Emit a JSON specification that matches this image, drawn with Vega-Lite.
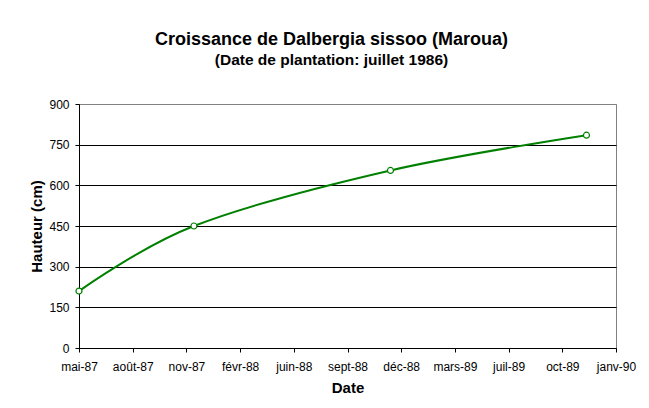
{
  "$schema": "https://vega.github.io/schema/vega-lite/v6.json",
  "width": 537,
  "height": 244,
  "autosize": {"type": "none"},
  "padding": {"left": 79, "top": 104, "right": 33, "bottom": 60},
  "background": "white",
  "title": {
    "text": "Croissance de Dalbergia sissoo (Maroua)",
    "subtitle": "(Date de plantation: juillet 1986)",
    "font": "Liberation Sans",
    "fontSize": 18,
    "fontWeight": "bold",
    "color": "black",
    "subtitleFont": "Liberation Sans",
    "subtitleFontSize": 15.5,
    "subtitleFontWeight": "bold",
    "subtitleColor": "black",
    "subtitlePadding": 4,
    "anchor": "middle",
    "frame": "group",
    "dx": -16,
    "offset": 30
  },
  "data": {
    "values": [
      {"date": "1987-05-01", "hauteur": 210},
      {"date": "1987-12-01", "hauteur": 450},
      {"date": "1988-12-01", "hauteur": 655},
      {"date": "1989-12-01", "hauteur": 785}
    ]
  },
  "encoding": {
    "x": {
      "field": "date",
      "type": "temporal",
      "title": "Date",
      "scale": {
        "type": "utc",
        "domain": [
          {"year": 1987, "month": 5, "date": 1, "utc": true},
          {"year": 1990, "month": 1, "date": 25, "utc": true}
        ],
        "nice": false
      },
      "axis": {
        "values": [
          {"year": 1987, "month": 5, "date": 1, "utc": true},
          {"year": 1987, "month": 8, "date": 9, "utc": true},
          {"year": 1987, "month": 11, "date": 17, "utc": true},
          {"year": 1988, "month": 2, "date": 25, "utc": true},
          {"year": 1988, "month": 6, "date": 4, "utc": true},
          {"year": 1988, "month": 9, "date": 12, "utc": true},
          {"year": 1988, "month": 12, "date": 21, "utc": true},
          {"year": 1989, "month": 3, "date": 31, "utc": true},
          {"year": 1989, "month": 7, "date": 9, "utc": true},
          {"year": 1989, "month": 10, "date": 17, "utc": true},
          {"year": 1990, "month": 1, "date": 25, "utc": true}
        ],
        "labelExpr": "['janv','févr','mars','avr','mai','juin','juil','août','sept','oct','nov','déc'][utcmonth(datum.value)] + '-' + utcFormat(datum.value, '%y')",
        "grid": false,
        "labelPadding": 9,
        "titlePadding": 8,
        "labelFlush": false,
        "labelOverlap": false
      }
    },
    "y": {
      "field": "hauteur",
      "type": "quantitative",
      "title": "Hauteur (cm)",
      "scale": {"domain": [0, 900], "nice": false},
      "axis": {
        "values": [0, 150, 300, 450, 600, 750, 900],
        "grid": true,
        "gridColor": {"condition": {"test": "datum.value == 900", "value": "#808080"}, "value": "black"},
        "gridWidth": 1,
        "labelPadding": 6,
        "titlePadding": 4,
        "labelFlush": false
      }
    }
  },
  "layer": [
    {
      "mark": {"type": "line", "color": "#008000", "strokeWidth": 2, "interpolate": "cardinal"}
    },
    {
      "mark": {"type": "point", "shape": "circle", "filled": true, "fill": "white", "stroke": "#008000", "strokeWidth": 1.2, "size": 36, "opacity": 1}
    }
  ],
  "config": {
    "font": "Liberation Sans",
    "view": {"stroke": "#808080", "strokeWidth": 1},
    "axis": {
      "labelFont": "Liberation Sans",
      "labelFontSize": 12,
      "labelColor": "black",
      "titleFont": "Liberation Sans",
      "titleFontSize": 15,
      "titleFontWeight": "bold",
      "titleColor": "black",
      "domainColor": "black",
      "domainWidth": 1,
      "tickColor": "black",
      "tickSize": 4,
      "tickWidth": 1
    }
  }
}
